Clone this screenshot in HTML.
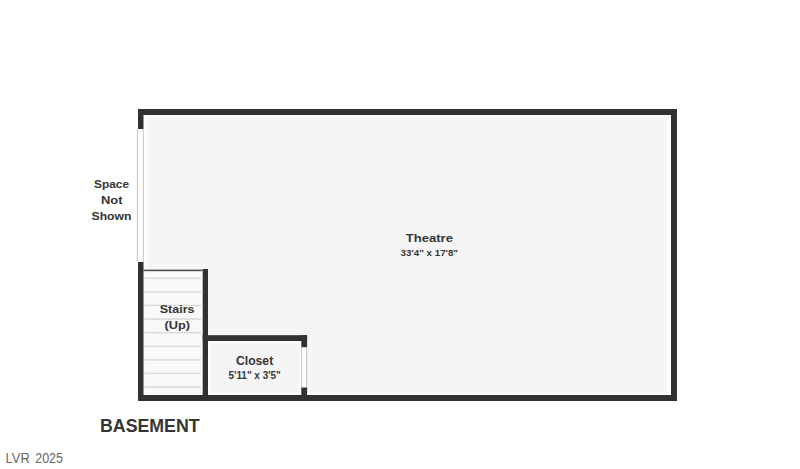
<!DOCTYPE html>
<html><head><meta charset="utf-8">
<style>
html,body{margin:0;padding:0;background:#fff;}
body{width:800px;height:469px;overflow:hidden;position:relative;}
svg{position:absolute;left:0;top:0;}
text{font-family:"Liberation Sans",sans-serif;}
</style></head><body>
<svg width="800" height="469" viewBox="0 0 800 469">
  <!-- floor fills -->
  <rect x="143.5" y="115" width="527.5" height="280" fill="#fdfdfd"/>
  <rect x="147.5" y="117.5" width="519" height="275" fill="#f5f5f5"/>
  <!-- stairs area -->
  <rect x="143.5" y="271" width="58.5" height="124" fill="#f9f9f9"/>
  <!-- stair treads -->
  <g fill="#d9d9d9">
    <rect x="144.5" y="277.5" width="56.5" height="1.5"/>
    <rect x="144.5" y="291.1" width="56.5" height="1.5"/>
    <rect x="144.5" y="304.7" width="56.5" height="1.5"/>
    <rect x="144.5" y="318.3" width="56.5" height="1.5"/>
    <rect x="144.5" y="331.9" width="56.5" height="1.5"/>
    <rect x="144.5" y="345.5" width="56.5" height="1.5"/>
    <rect x="144.5" y="359.1" width="56.5" height="1.5"/>
    <rect x="144.5" y="372.7" width="56.5" height="1.5"/>
    <rect x="144.5" y="386.3" width="56.5" height="1.5"/>
  </g>
  <!-- closet fill -->
  <rect x="208" y="341" width="93.5" height="54" fill="#fdfdfd"/>
  <rect x="210" y="343" width="89.5" height="50" fill="#f5f5f5"/>
  <!-- openings -->
  <rect x="136.9" y="129" width="6.6" height="133" fill="#fff"/>
  <rect x="136.9" y="129" width="1" height="133" fill="#c4c4c4"/>
  <rect x="142.8" y="129" width="1" height="133" fill="#c4c4c4"/>
  <rect x="301.2" y="347.5" width="6" height="40" fill="#fff"/>
  <rect x="301.2" y="347.5" width="1" height="40" fill="#c4c4c4"/>
  <rect x="306.2" y="347.5" width="1" height="40" fill="#c4c4c4"/>
  <!-- walls -->
  <g fill="#313131">
    <rect x="138" y="109" width="539" height="6"/>
    <rect x="671" y="109" width="6" height="292"/>
    <rect x="138" y="395" width="539" height="6"/>
    <rect x="138" y="109" width="5.5" height="20"/>
    <rect x="138" y="262" width="5.5" height="139"/>
    <rect x="202.7" y="269" width="5.3" height="132"/>
    <rect x="202.7" y="335.2" width="104.4" height="5.8"/>
    <rect x="301.3" y="335.2" width="5.8" height="12"/>
    <rect x="301.3" y="387.5" width="5.8" height="13.5"/>
  </g>
  <rect x="143.5" y="269.6" width="59" height="1.6" fill="#505050"/>
  <!-- labels -->
  <g fill="#353535" font-weight="bold" text-anchor="start">
    <text x="94" y="188" font-size="11" textLength="35" lengthAdjust="spacingAndGlyphs">Space</text>
    <text x="101" y="204" font-size="11" textLength="21.5" lengthAdjust="spacingAndGlyphs">Not</text>
    <text x="91.5" y="220" font-size="11" textLength="40" lengthAdjust="spacingAndGlyphs">Shown</text>
    <text x="405.7" y="242.4" font-size="11.5" textLength="47.3" lengthAdjust="spacingAndGlyphs">Theatre</text>
    <text x="400.6" y="256.2" font-size="9.7" textLength="57.4" lengthAdjust="spacingAndGlyphs">33'4" x 17'8"</text>
    <text x="159.7" y="313.4" font-size="11.2" textLength="34.9" lengthAdjust="spacingAndGlyphs">Stairs</text>
    <text x="164.5" y="329" font-size="11.8" textLength="25.6" lengthAdjust="spacingAndGlyphs">(Up)</text>
    <text x="236" y="365.2" font-size="12.4" textLength="37.2" lengthAdjust="spacingAndGlyphs">Closet</text>
    <text x="228.5" y="379" font-size="10.5" textLength="52.3" lengthAdjust="spacingAndGlyphs">5'11" x 3'5"</text>
    <text x="100" y="432.4" font-size="18.8" textLength="99.6" lengthAdjust="spacingAndGlyphs">BASEMENT</text>
  </g>
  <g fill="#686868" font-size="14.4">
    <text x="5.6" y="462.9" textLength="24.2" lengthAdjust="spacingAndGlyphs">LVR</text>
    <text x="35.2" y="462.9" textLength="27.8" lengthAdjust="spacingAndGlyphs">2025</text>
  </g>
</svg>
</body></html>
